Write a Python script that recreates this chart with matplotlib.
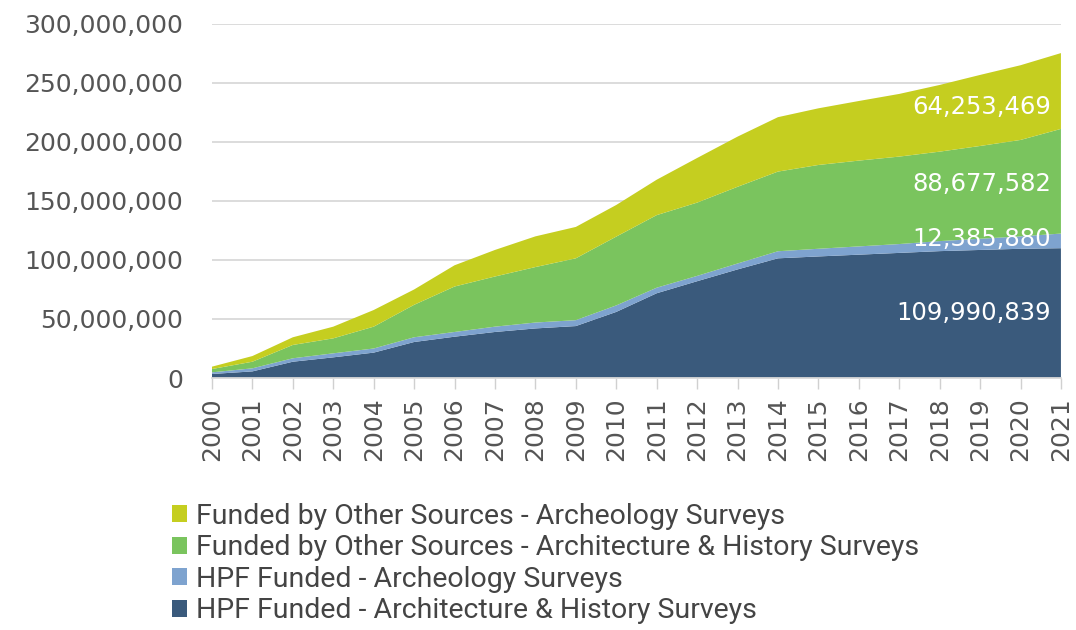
import numpy as np
import matplotlib
matplotlib.use("Agg")
from matplotlib import pyplot as plt
from matplotlib.ticker import FuncFormatter

plt.rcParams['font.family'] = ['DejaVu Sans']

years = list(range(2000, 2022))

# values in millions of dollars
hpf_arch_hist = [3.4, 5.6, 13.8, 17.5, 21.5, 30.5, 35.0, 39.0, 42.0, 44.0, 56.0,
                 71.8, 82.0, 92.0, 101.4, 103.0, 104.5, 106.0, 107.5, 108.5, 109.5, 109.990839]
hpf_archeo = [1.4, 2.6, 2.9, 3.4, 3.5, 4.0, 4.0, 4.5, 5.0, 5.0, 5.5,
              4.7, 4.5, 5.0, 6.0, 6.5, 7.0, 7.5, 8.5, 9.5, 10.5, 12.385880]
other_arch_hist = [2.8, 5.6, 11.3, 12.7, 18.5, 27.5, 38.5, 42.5, 47.0, 52.4, 58.3,
                   61.5, 62.1, 65.0, 67.5, 71.0, 72.7, 74.1, 75.8, 78.6, 81.7, 88.677582]
other_archeo = [2.0, 4.8, 6.5, 9.9, 14.1, 13.0, 18.0, 22.5, 26.0, 26.6, 26.8,
                30.0, 37.8, 42.5, 46.1, 48.0, 50.5, 53.1, 56.5, 60.2, 63.3, 64.253469]

series_names = ['HPF Funded - Architecture & History Surveys',
                'HPF Funded - Archeology Surveys',
                'Funded by Other Sources - Architecture & History Surveys',
                'Funded by Other Sources - Archeology Surveys']
colors = ['#3a5a7c', '#7ea3cf', '#7ac45e', '#c5ce20']
end_labels = ['109,990,839', '12,385,880', '88,677,582', '64,253,469']
label_y = [55e6, 118e6, 164e6, 230e6]

data = np.array([hpf_arch_hist, hpf_archeo, other_arch_hist, other_archeo]) * 1e6

fig = plt.figure(figsize=(10.76, 6.3), dpi=100)
ax = fig.add_axes([0.197, 0.4, 0.789, 0.562])

ax.stackplot(years, data, colors=colors, labels=series_names, linewidth=0)

ax.set_xlim(2000, 2021)
ax.set_ylim(0, 300e6)
ax.set_yticks(np.arange(0, 300e6 + 1, 50e6))
ax.yaxis.set_major_formatter(FuncFormatter(lambda v, p: f'{int(v):,}'))
ax.set_xticks(years)
ax.set_xticklabels([str(y) for y in years], rotation=90)

ax.grid(axis='y', color='#d9d9d9', linewidth=1.3)
ax.set_axisbelow(True)
for s in ['top', 'right', 'left']:
    ax.spines[s].set_visible(False)
ax.spines['bottom'].set_color('#d9d9d9')
ax.spines['bottom'].set_linewidth(1.3)
ax.tick_params(axis='y', length=0, pad=21, labelsize=18, labelcolor='#555555')
ax.tick_params(axis='x', length=8, width=1, color='#d0d0d0', pad=6,
               labelsize=18, labelcolor='#555555')

for txt, yv in zip(end_labels, label_y):
    ax.text(2020.75, yv, txt, color='white', fontsize=17.5, ha='right', va='center')

handles, labels = ax.get_legend_handles_labels()
fig.legend(handles[::-1], labels[::-1], loc='upper left', bbox_to_anchor=(0.149, 0.22),
           frameon=False, labelcolor='#444444', handlelength=0.55,
           handleheight=0.55, handletextpad=0.3, labelspacing=0.16, borderaxespad=0,
           prop={'family': 'Roboto', 'size': 20.5})

fig.savefig('out.png', dpi=100)
